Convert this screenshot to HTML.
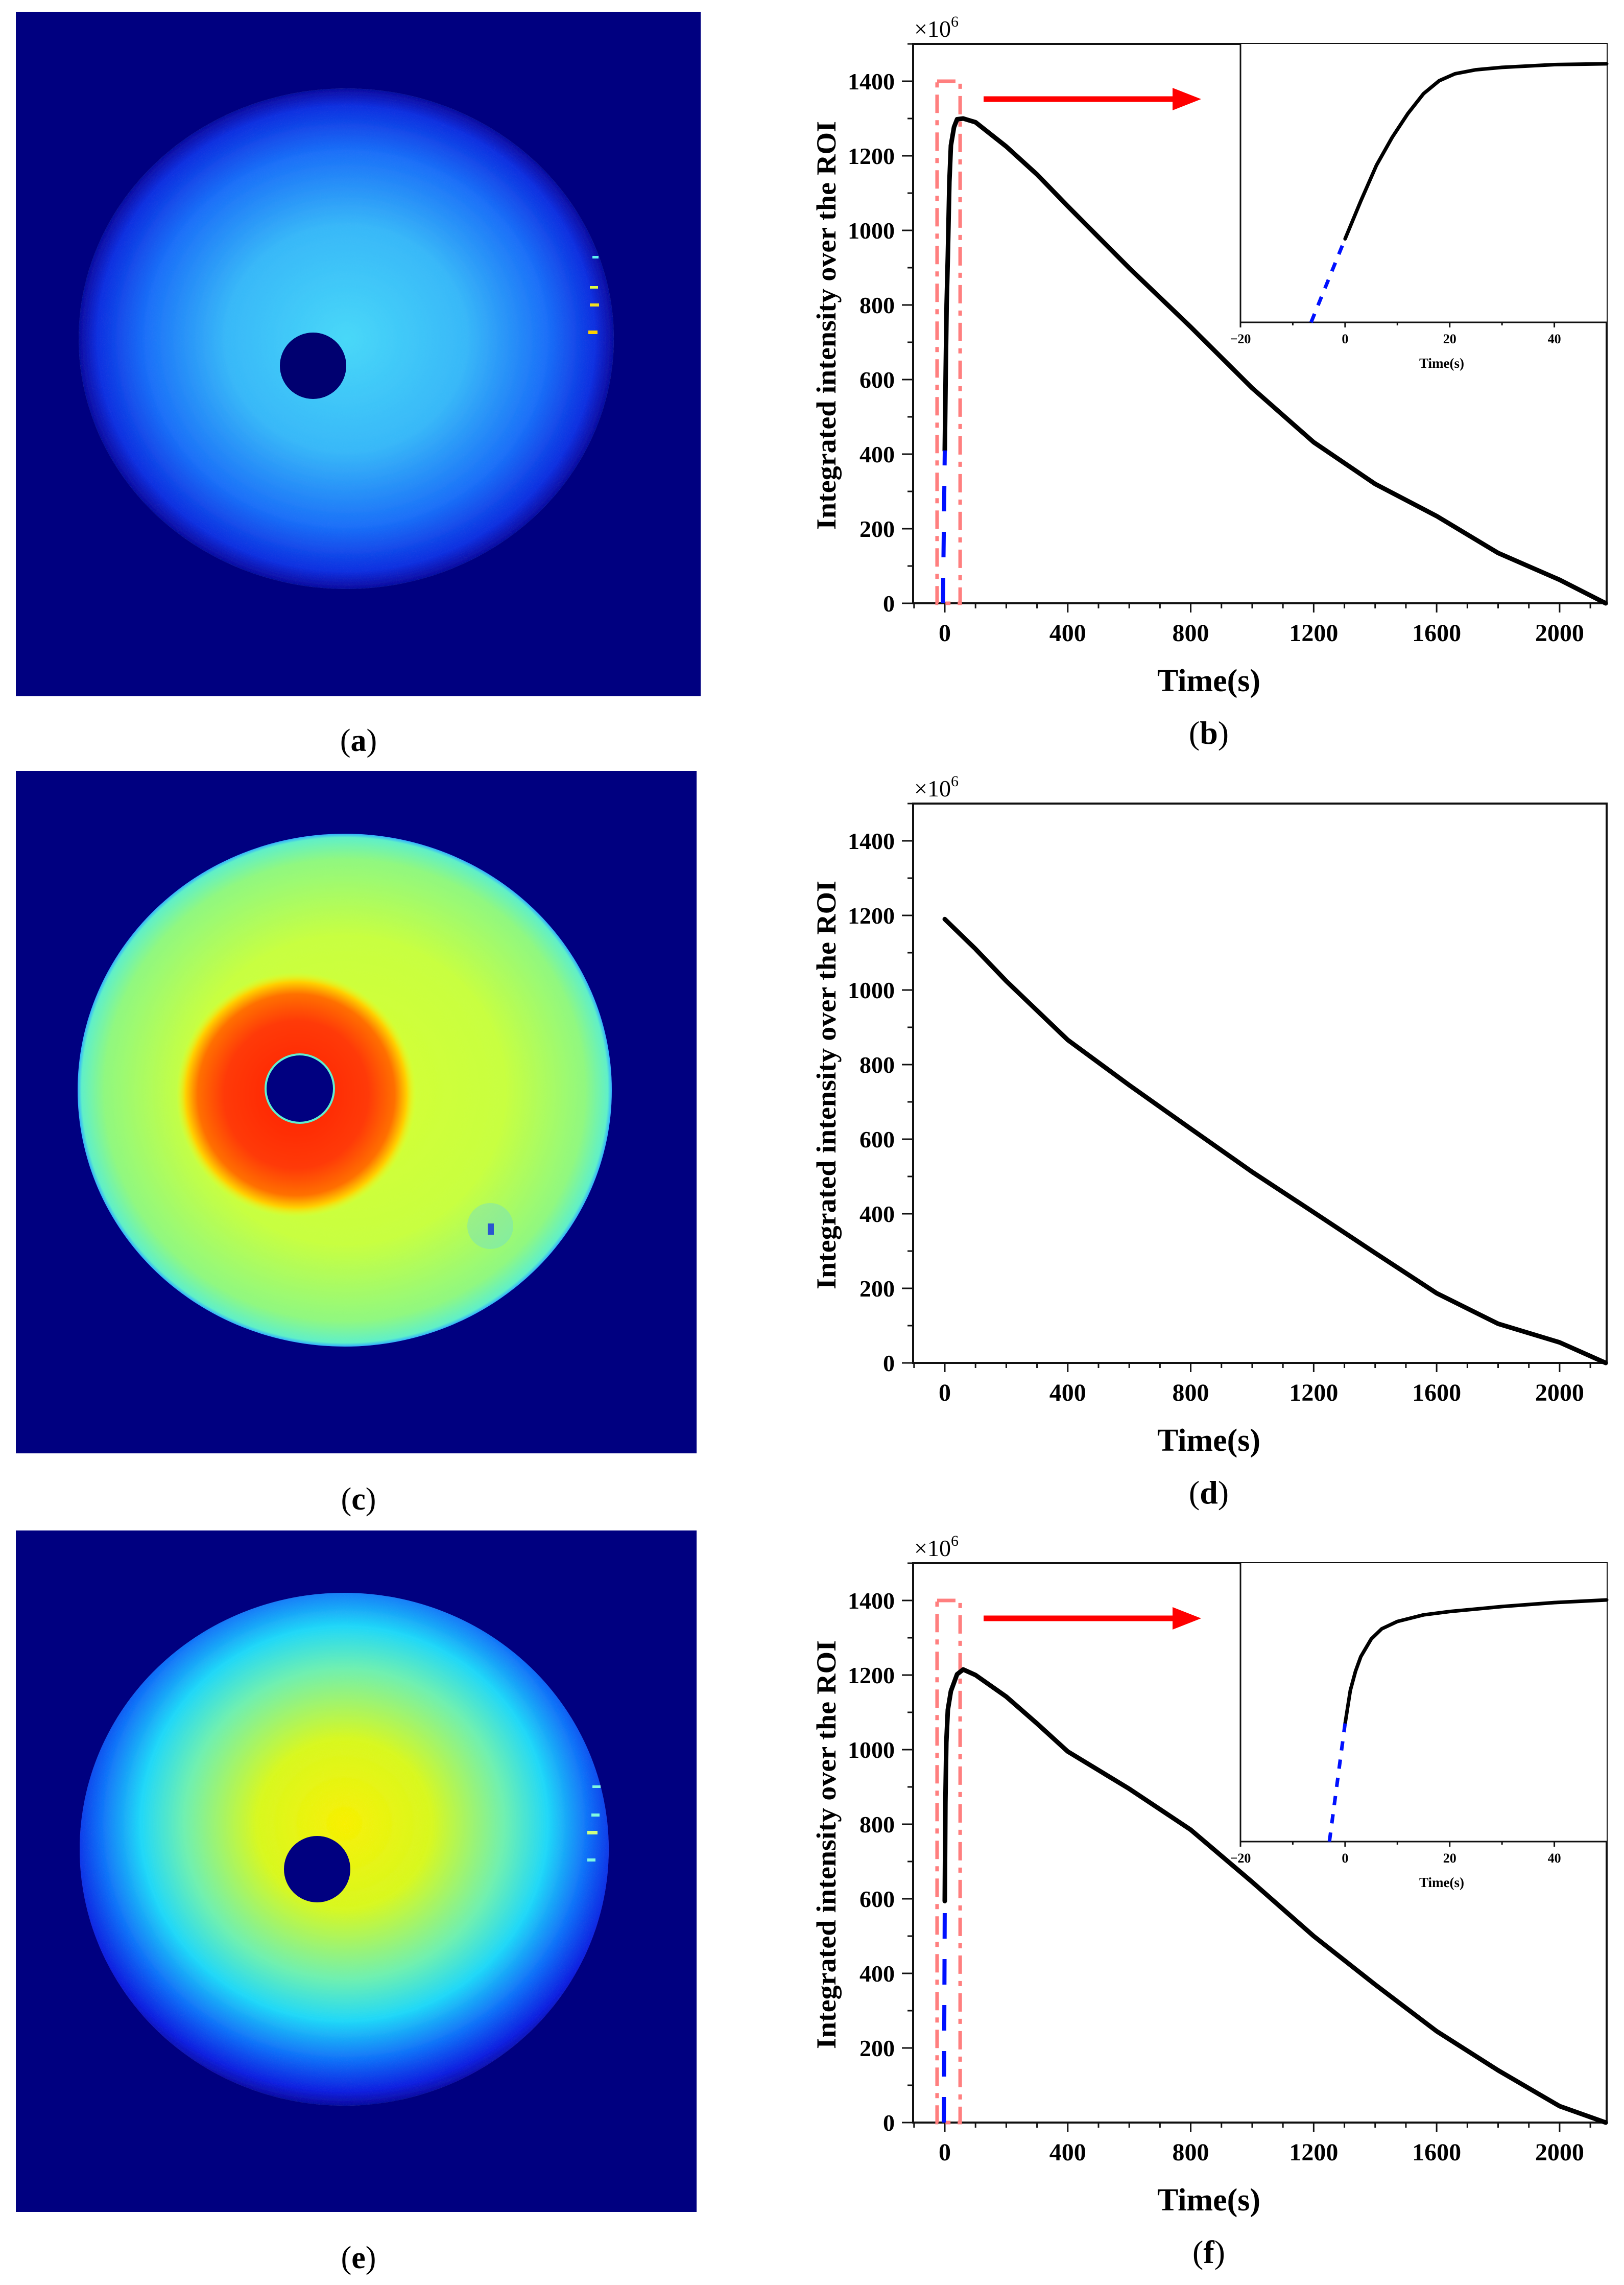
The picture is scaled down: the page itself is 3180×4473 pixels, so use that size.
<!DOCTYPE html>
<html><head><meta charset="utf-8"><style>
html,body{margin:0;padding:0;background:#fff;}
svg{display:block;}
text{font-family:"Liberation Serif",serif;}
</style></head><body>
<svg id="root" width="3180" height="4473" viewBox="0 0 3180 4473" xmlns="http://www.w3.org/2000/svg">
<defs>
  <radialGradient id="gA" cx="0.5" cy="0.5" r="0.5">
    <stop offset="0" stop-color="#48d8f8"/>
    <stop offset="0.45" stop-color="#38b8f8"/>
    <stop offset="0.75" stop-color="#1a70f8"/>
    <stop offset="0.93" stop-color="#0c30e0"/>
    <stop offset="1" stop-color="#060aa0"/>
  </radialGradient>
  <radialGradient id="gCdisk" cx="0.5" cy="0.5" r="0.5">
    <stop offset="0" stop-color="#d8ff30"/>
    <stop offset="0.6" stop-color="#c8ff40"/>
    <stop offset="0.9" stop-color="#90f880"/>
    <stop offset="0.985" stop-color="#60f0c8"/>
    <stop offset="1" stop-color="#30b0ff"/>
  </radialGradient>
  <radialGradient id="gCred" cx="0.5" cy="0.5" r="0.5">
    <stop offset="0" stop-color="#ff2000"/>
    <stop offset="0.6" stop-color="#ff3a08"/>
    <stop offset="0.82" stop-color="#ff7000"/>
    <stop offset="0.92" stop-color="#ffd000"/>
    <stop offset="1" stop-color="#e8ff20" stop-opacity="0"/>
  </radialGradient>
  <radialGradient id="gE" cx="0.5" cy="0.45" r="0.55">
    <stop offset="0" stop-color="#f8f000"/>
    <stop offset="0.3" stop-color="#d8f820"/>
    <stop offset="0.55" stop-color="#70f0b0"/>
    <stop offset="0.7" stop-color="#20d8f8"/>
    <stop offset="0.84" stop-color="#1070f8"/>
    <stop offset="0.95" stop-color="#0a20e0"/>
    <stop offset="1" stop-color="#060aa0"/>
  </radialGradient>
  <filter id="noise" x="0" y="0" width="100%" height="100%">
    <feTurbulence type="fractalNoise" baseFrequency="0.06" numOctaves="2" seed="3" result="t"/>
    <feColorMatrix type="matrix" values="0 0 0 0 0.5  0 0 0 0 0.5  0 0 0 0 0.5  0 0 0 0.35 0" in="t" result="n"/>
    <feComposite in="n" in2="SourceGraphic" operator="in" result="nc"/>
    <feBlend in="SourceGraphic" in2="nc" mode="overlay"/>
  </filter>
</defs>

<g>
  <rect x="31" y="23" width="1341" height="1340" fill="#000080"/>
  <ellipse cx="678" cy="663" rx="524" ry="490" fill="url(#gA)" filter="url(#noise)"/>
  <circle cx="613" cy="716" r="65" fill="#000070"/>
  <rect x="1160" y="501" width="12" height="5" fill="#60f0f0"/>
  <rect x="1155" y="560" width="16" height="5" fill="#e0ff40"/>
  <rect x="1155" y="594" width="18" height="6" fill="#f0e020"/>
  <rect x="1152" y="647" width="18" height="7" fill="#ffd000"/>
</g>
<text x="702" y="1470" font-size="62" text-anchor="middle">(<tspan font-weight="bold">a</tspan>)</text>

<g>
  <rect x="31" y="1509" width="1333" height="1336" fill="#000080"/>
  <ellipse cx="675" cy="2134" rx="523" ry="502" fill="url(#gCdisk)" filter="url(#noise)"/>
  <ellipse cx="580" cy="2143" rx="235" ry="240" fill="url(#gCred)"/>
  <circle cx="587" cy="2131" r="69" fill="#60f0d0"/>
  <circle cx="587" cy="2131" r="65" fill="#000080"/>
  <ellipse cx="960" cy="2400" rx="45" ry="45" fill="#60d8e8" opacity="0.35"/>
  <rect x="955" y="2395" width="12" height="22" fill="#1030e0" opacity="0.8"/>
</g>
<text x="702" y="2955" font-size="62" text-anchor="middle">(<tspan font-weight="bold">c</tspan>)</text>

<g>
  <rect x="31" y="2996" width="1333" height="1334" fill="#000080"/>
  <ellipse cx="674" cy="3620" rx="518" ry="502" fill="url(#gE)" filter="url(#noise)"/>
  <circle cx="621" cy="3659" r="65" fill="#000080"/>
  <rect x="1160" y="3495" width="16" height="5" fill="#80f8e0"/>
  <rect x="1158" y="3550" width="16" height="6" fill="#80f8e0"/>
  <rect x="1150" y="3584" width="20" height="7" fill="#d0ff80"/>
  <rect x="1150" y="3638" width="16" height="6" fill="#80f8e0"/>
</g>
<text x="702" y="4440" font-size="62" text-anchor="middle">(<tspan font-weight="bold">e</tspan>)</text>

<g id="charts"></g>
</svg>
<script>
const xTicks = [0, 400, 800, 1200, 1600, 2000];
const yTicks = [0, 200, 400, 600, 800, 1000, 1200, 1400];
const insetXTicks = [-20, 0, 20, 40];

const timesB = [0, 3, 6, 10, 15, 20, 30, 40, 60, 100, 200, 300, 400, 600, 800, 1000, 1200, 1400, 1600, 1800, 2000, 2150];
const valuesB = [410, 620, 800, 932, 1130, 1228, 1277, 1298, 1300, 1290, 1225, 1150, 1065, 899, 741, 577, 432, 320, 234, 135, 63, 0];
const dashB = [[-6, 0], [0, 410]];
const insetTimesB = [0, 3, 6, 9, 12, 15, 18, 21, 25, 30, 40, 50];
const insetValuesB = [420, 610, 790, 930, 1050, 1150, 1215, 1250, 1270, 1282, 1296, 1300];
const insetDashB = [[-6.5, 0], [0, 420]];

const timesD = [0, 100, 200, 400, 600, 800, 1000, 1200, 1400, 1600, 1800, 2000, 2150];
const valuesD = [1190, 1110, 1024, 866, 745, 628, 512, 404, 295, 187, 105, 55, 0];

const timesF = [0, 2, 5, 10, 20, 40, 60, 100, 200, 300, 400, 600, 800, 1000, 1200, 1400, 1600, 1800, 2000, 2150];
const valuesF = [594, 857, 1019, 1107, 1157, 1202, 1215, 1200, 1142, 1070, 995, 895, 785, 645, 500, 370, 245, 140, 44, 0];
const dashF = [[-3, 0], [0, 594]];
const insetTimesF = [0, 1, 2, 3, 5, 7, 10, 15, 20, 30, 40, 50];
const insetValuesF = [594, 760, 857, 930, 1019, 1070, 1107, 1140, 1157, 1182, 1202, 1215];
const insetDashF = [[-3, 0], [0, 594]];

const NS = "http://www.w3.org/2000/svg";
const root = document.getElementById('charts');
function mk(tag, attrs, parent) {
  const e = document.createElementNS(NS, tag);
  for (const k in attrs) e.setAttribute(k, attrs[k]);
  (parent || root).appendChild(e);
  return e;
}

function drawChart(dy, letter, times, values, dash, inset) {
  const L = 1788, R = 3146, T = 86 + dy, B = 1181 + dy;
  const xMin = -103, xMax = 2153, yMin = 0, yMax = 1500;
  const sx = v => L + (v - xMin) / (xMax - xMin) * (R - L);
  const sy = v => B - (v - yMin) / (yMax - yMin) * (B - T);
  const g = mk('g', {});
  
  

  const ax = mk('path', {d: `M${L},${T} L${L},${B} L${R},${B} L${R},${T} Z`, fill: 'none', stroke: '#111', 'stroke-width': 4}, g);
  
  

  for (let v = -100; v <= 2100; v += 100) {
    const major = v % 400 === 0;
    const t = mk('line', {x1: sx(v), x2: sx(v), y1: B, y2: B + (major ? 18 : 10), stroke: '#111', 'stroke-width': 3}, g);
    
    
  }
  xTicks.forEach(v => {
    const t = mk('text', {x: sx(v), y: B + 74, 'font-size': 48, 'font-weight': 'bold', 'text-anchor': 'middle'}, g);
    t.textContent = v;
    
    
  });
  for (let v = 0; v <= 1500; v += 100) {
    const major = v % 200 === 0;
    const t = mk('line', {x1: L, x2: L - (major ? 22 : 11), y1: sy(v), y2: sy(v), stroke: '#111', 'stroke-width': 3}, g);
    
    
  }
  yTicks.forEach(v => {
    const t = mk('text', {x: L - 36, y: sy(v) + 16, 'font-size': 46, 'font-weight': 'bold', 'text-anchor': 'end'}, g);
    t.textContent = v;
    
    
  });
  const mult = mk('text', {x: L + 2, y: T - 14, 'font-size': 46}, g);
  mult.innerHTML = '×10<tspan font-size="30" dy="-20">6</tspan>';
  
  

  const xt = mk('text', {x: 2367, y: B + 172, 'font-size': 62, 'font-weight': 'bold', 'text-anchor': 'middle'}, g);
  xt.textContent = 'Time(s)';
  
  
  const yt = mk('text', {x: 0, y: 0, 'font-size': 54, 'font-weight': 'bold', 'text-anchor': 'middle', textLength: 800, lengthAdjust: 'spacingAndGlyphs', transform: `translate(1636,${637 + dy}) rotate(-90)`}, g);
  yt.textContent = 'Integrated intensity over the ROI';
  
  

  const pl = mk('text', {x: 2367, y: B + 275, 'font-size': 64, 'text-anchor': 'middle'}, g);
  pl.innerHTML = '(<tspan font-weight="bold">' + letter + '</tspan>)';
  
  

  if (inset) {
    const bx = mk('rect', {x: sx(-25), y: sy(1400), width: sx(50) - sx(-25), height: sy(0) - sy(1400), fill: 'none', stroke: '#ff7f7f', 'stroke-width': 7, 'stroke-dasharray': '36,14,10,14'}, g);
    
    
    const ay = 194 + dy;
    const ar = mk('line', {x1: 1926, y1: ay, x2: 2300, y2: ay, stroke: '#ff0000', 'stroke-width': 11}, g);
    
    
    const ah = mk('polygon', {points: `2296,${ay - 22} 2352,${ay} 2296,${ay + 22}`, fill: '#ff0000'}, g);
    
    
  }

  const pts = times.map((t, i) => sx(t).toFixed(1) + ',' + sy(values[i]).toFixed(1)).join(' ');
  const c = mk('polyline', {points: pts, fill: 'none', stroke: '#000', 'stroke-width': 9, 'stroke-linejoin': 'round', 'stroke-linecap': 'round'}, g);
  
  
  if (dash) {
    const d = mk('line', {x1: sx(dash[0][0]), y1: sy(dash[0][1]), x2: sx(dash[1][0]), y2: sy(dash[1][1]), stroke: '#0010ff', 'stroke-width': 8, 'stroke-dasharray': '50,40'}, g);
    
    
  }

  if (inset) {
    const iL = 2429, iR = 3146, iT = T, iB = 631 + dy;
    const ixs = v => iL + (v + 20) / 70 * (iR - iL);
    const iys = v => iB - v / 1400 * (iB - iT);
    const ig = mk('g', {}, g);
    
    
    mk('rect', {x: iL, y: iT, width: iR - iL, height: iB - iT, fill: '#fff'}, ig);
    const ia = mk('path', {d: `M${iL},${iT} L${iL},${iB} L${iR},${iB}`, fill: 'none', stroke: '#111', 'stroke-width': 3}, ig);
    
    
    for (let v = -20; v <= 50; v += 10) {
      const major = v % 20 === 0;
      const t = mk('line', {x1: ixs(v), x2: ixs(v), y1: iB, y2: iB + (major ? 10 : 6), stroke: '#111', 'stroke-width': 3}, ig);
      
      
    }
    insetXTicks.forEach(v => {
      const t = mk('text', {x: ixs(v), y: iB + 41, 'font-size': 26, 'font-weight': 'bold', 'text-anchor': 'middle'}, ig);
      t.textContent = v < 0 ? '\u2212' + Math.abs(v) : v;
      
      
    });
    const it = mk('text', {x: 2823, y: iB + 89, 'font-size': 27, 'font-weight': 'bold', 'text-anchor': 'middle'}, ig);
    it.textContent = 'Time(s)';
    
    
    const ip = inset.t.map((t, i) => ixs(t).toFixed(1) + ',' + iys(inset.v[i]).toFixed(1)).join(' ');
    const icv = mk('polyline', {points: ip, fill: 'none', stroke: '#000', 'stroke-width': 7, 'stroke-linejoin': 'round', 'stroke-linecap': 'round'}, ig);
    
    
    const idl = mk('line', {x1: ixs(inset.d[0][0]), y1: iys(inset.d[0][1]), x2: ixs(inset.d[1][0]), y2: iys(inset.d[1][1]), stroke: '#0010ff', 'stroke-width': 7, 'stroke-dasharray': '18,18'}, ig);
    
    
  }
}

drawChart(0, 'b', timesB, valuesB, dashB, {t: insetTimesB, v: insetValuesB, d: insetDashB});
drawChart(1487, 'd', timesD, valuesD, null, null);
drawChart(2974, 'f', timesF, valuesF, dashF, {t: insetTimesF, v: insetValuesF, d: insetDashF});
</script>
</body></html>
